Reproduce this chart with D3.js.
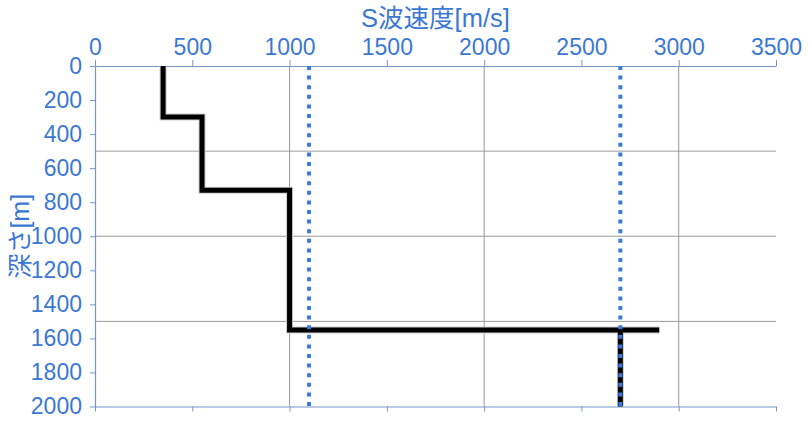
<!DOCTYPE html>
<html>
<head>
<meta charset="utf-8">
<script src="https://cdn.jsdelivr.net/npm/d3@7"></script>
<style>
  body { margin: 0; background: #fff; }
  text { font-family: "Liberation Sans", Arial, "Noto Sans CJK JP", sans-serif; }
</style>
</head>
<body>
<div id="chart"></div>
<script>
'use strict';

// S-wave velocity profile (step line), velocity [m/s] vs depth [m]
const profileVs    = [350, 350, 550, 550, 1000, 1000, 2900];
const profileDepth = [0, 300, 300, 730, 730, 1550, 1550];

// extra black segment below the last layer
const tailVs    = [2700, 2700];
const tailDepth = [1550, 2000];

// blue dotted reference velocities
const refVs = [1100, 2700];

const xTicks = [0, 500, 1000, 1500, 2000, 2500, 3000, 3500];
const yTicks = [0, 200, 400, 600, 800, 1000, 1200, 1400, 1600, 1800, 2000];
const xGrid = [1000, 2000, 3000];
const yGrid = [500, 1000, 1500];

const xTitle = 'S波速度[m/s]';
const yTitle = '深さ[m]';

const width = 809, height = 423;
const margin = { top: 66, left: 95, right: 33, bottom: 16.5 };
const blue = '#3b78d3';
const axisColor = '#7497c9';

const svg = d3.select('#chart')
    .append('svg')
    .attr('width', width)
    .attr('height', height);

const x = d3.scaleLinear().domain([0, 3500]).range([margin.left, width - margin.right]);
const y = d3.scaleLinear().domain([0, 2000]).range([margin.top, height - margin.bottom]);

// gridlines
svg.append('g')
    .selectAll('line')
    .data(xGrid)
    .enter()
        .append('line')
        .attr('x1', d => x(d)).attr('x2', d => x(d))
        .attr('y1', y(0)).attr('y2', y(2000))
        .attr('stroke', '#999').attr('stroke-width', 1);

svg.append('g')
    .selectAll('line')
    .data(yGrid)
    .enter()
        .append('line')
        .attr('x1', x(0)).attr('x2', x(3500))
        .attr('y1', d => y(d)).attr('y2', d => y(d))
        .attr('stroke', '#999').attr('stroke-width', 1);

// axes
function styleAxis(g) {
    g.selectAll('.domain').attr('stroke', axisColor).attr('stroke-width', 1.2);
    g.selectAll('.tick line').attr('stroke', axisColor);
    g.selectAll('.tick text').attr('fill', blue).style('font-size', '23px');
}

svg.append('g')
    .attr('transform', 'translate(0,' + y(0) + ')')
    .call(d3.axisTop(x).tickValues(xTicks).tickFormat(d3.format('d'))
        .tickSize(6).tickSizeOuter(0).tickPadding(5))
    .call(styleAxis);

svg.append('g')
    .attr('transform', 'translate(0,' + y(2000) + ')')
    .call(d3.axisBottom(x).tickValues(xTicks).tickSize(5).tickSizeOuter(0).tickFormat(''))
    .call(styleAxis);

svg.append('g')
    .attr('transform', 'translate(' + x(0) + ',0)')
    .call(d3.axisLeft(y).tickValues(yTicks).tickFormat(d3.format('d'))
        .tickSize(5).tickSizeOuter(0).tickPadding(8))
    .call(styleAxis);

// profile line
const line = d3.line()
    .x(d => x(d[0]))
    .y(d => y(d[1]));

const profile = profileVs.map((v, i) => [v, profileDepth[i]]);
const tail = tailVs.map((v, i) => [v, tailDepth[i]]);

[profile, tail].forEach(pts => {
    svg.append('path')
        .attr('d', line(pts))
        .attr('fill', 'none')
        .attr('stroke', '#ccc')
        .attr('stroke-width', 7);
});
[profile, tail].forEach(pts => {
    svg.append('path')
        .attr('d', line(pts))
        .attr('fill', 'none')
        .attr('stroke', '#000')
        .attr('stroke-width', 5);
});

// reference dotted lines
svg.append('g')
    .selectAll('line')
    .data(refVs)
    .enter()
        .append('line')
        .attr('x1', d => x(d)).attr('x2', d => x(d))
        .attr('y1', y(0)).attr('y2', y(2000))
        .attr('stroke', '#3a7ad8')
        .attr('stroke-width', 4)
        .attr('stroke-dasharray', '4,5.6');

// titles
svg.append('text')
    .attr('x', (x(0) + x(3500)) / 2)
    .attr('y', 27)
    .attr('text-anchor', 'middle')
    .attr('fill', blue)
    .style('font-size', '25.5px')
    .text(xTitle);

svg.append('text')
    .attr('transform', 'translate(29,' + (y(0) + y(2000)) / 2 + ') rotate(-90)')
    .attr('text-anchor', 'middle')
    .attr('fill', blue)
    .style('font-size', '25px')
    .text(yTitle);
</script>
</body>
</html>
